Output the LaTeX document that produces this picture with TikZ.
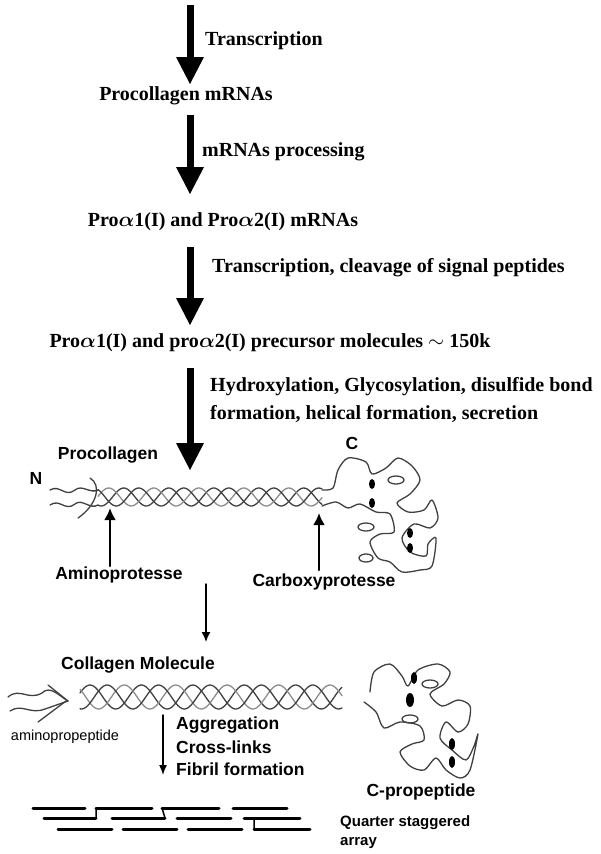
\documentclass[tikz,border=0pt]{standalone}
\usepackage{amsmath}
\usepackage{fontspec}
\setmainfont{Liberation Serif}
\setsansfont{Liberation Sans}
\usetikzlibrary{arrows.meta}
\begin{document}
\begin{tikzpicture}[x=1pt,y=-1pt,>=stealth, line join=round, line cap=round,
  stagebox/.style={font=\fontsize{20}{23}\selectfont\bfseries, inner sep=0pt},
  steplabel/.style={font=\fontsize{20}{23}\selectfont\bfseries, inner sep=0pt, anchor=west},
  sanslabel/.style={font=\sffamily\fontsize{17.5}{20}\selectfont\bfseries, inner sep=0pt},
  strand/.style={line width=1.3pt, black!75},
  strandg/.style={line width=1.3pt, black!45}]
\useasboundingbox (0,0) rectangle (600,854);
% dicke Pfeile
\def\bigarrow#1#2#3{\draw[line width=7pt, line cap=butt] (#1,#2)--(#1,#3-25);
  \fill (#1-14,#3-27)--(#1+14,#3-27)--(#1,#3)--cycle;}
\bigarrow{190}{5}{84}
\bigarrow{190}{115}{194}
\bigarrow{190}{247}{325}
\bigarrow{190}{368}{470}
\node[steplabel] (t1) at (205,41) {Transcription};
\node[stagebox] (s1) at (186,96) {Procollagen mRNAs};
\node[steplabel] (t2) at (202,152) {mRNAs processing};
\node[stagebox] (s2) at (223,222) {Pro$\boldsymbol{\alpha}$1(I) and Pro$\boldsymbol{\alpha}$2(I) mRNAs};
\node[steplabel] (t3) at (212,268) {Transcription, cleavage of signal peptides};
\node[stagebox] (s3) at (270,343) {Pro$\boldsymbol{\alpha}$1(I) and pro$\boldsymbol{\alpha}$2(I) precursor molecules $\sim$ 150k};
\node[steplabel] (t4) at (210,387) {Hydroxylation, Glycosylation, disulfide bond};
\node[steplabel] (t5) at (210,414) {formation, helical formation, secretion};
% Procollagen
\node[sanslabel] (pc) at (108,455) {Procollagen};
\node[sanslabel] (n) at (36,478) {N};
\node[sanslabel] (c) at (352,443) {C};
\foreach \p/\s in {0/strand,120/strandg,240/strand}
  \draw[\s,domain=98:322,samples=120,smooth] plot (\x,{497+9*sin(8*\x+\p)});
\draw[strand] (50,490) .. controls (60,484) and (65,498) .. (75,490) .. controls (82,484) and (90,494) .. (98,490);
\draw[strand] (50,505) .. controls (60,498) and (65,512) .. (75,504) .. controls (82,498) and (90,510) .. (98,505);
\draw[strand] (90,478) .. controls (102,485) and (97,505) .. (78,518);
\draw[strand] plot[smooth] coordinates {(322,490)(333,488)(338,470)(348,458)(366,462)(372,474)(386,468)(398,458)(412,466)(420,480)(410,494)(397,503)(408,512)(424,510)(432,500)(438,518)(430,528)(414,524)(402,538)(410,552)(426,556)(428,544)(436,538)(432,566)(420,570)(402,572)(390,562)(378,558)(370,542)(380,534)(394,532)(390,514)(376,512)(360,504)(348,508)(336,502)(322,506)};
\fill (372,484) ellipse (3 and 5) (372,503) ellipse (3 and 5) (410,533) ellipse (3 and 5) (410,548) ellipse (3 and 5);
\draw[strand] (396,480) ellipse (8 and 4) (366,527) ellipse (8 and 4) (366,558) ellipse (7 and 4);
\coordinate (ap) at (110,508);
\coordinate (cp) at (319,513);
\node[sanslabel] (amino) at (119,575) {Aminoprotesse};
\node[sanslabel] (carboxy) at (324,582) {Carboxyprotesse};
\draw[line width=2.5pt, -{Latex[length=12pt,width=12pt]}] (110,566) -- (ap);
\draw[line width=2.5pt, -{Latex[length=12pt,width=12pt]}] (319,570) -- (cp);
\draw[line width=1.5pt, -{Latex[length=10pt,width=9pt]}] (206,584) -- (206,642);
% Collagen molecule
\node[sanslabel] (cm) at (138,665) {Collagen Molecule};
\foreach \p/\s in {0/strand,120/strandg,240/strand}
  \draw[\s,domain=80:342,samples=140,smooth] plot (\x,{697+12*sin(7*\x+\p)});
\draw[strand] (8,697) .. controls (20,687) and (28,701) .. (42,693) .. controls (50,685) and (58,695) .. (68,701);
\draw[strand] (10,711) .. controls (22,703) and (30,715) .. (45,709) -- (68,701) -- (48,685);
\draw[strand] (66,701) -- (38,722);
\node[sanslabel, font=\sffamily\fontsize{14.5}{17}\selectfont] (ampep) at (65,737) {aminopropeptide};
\draw[line width=1.5pt, -{Latex[length=10pt,width=8pt]}] (163,715) -- (163,775);
\node[sanslabel, anchor=west] (ag) at (176,725) {Aggregation};
\node[sanslabel, anchor=west] (cl) at (176,747) {Cross-links};
\node[sanslabel, anchor=west] (ff) at (176,769) {Fibril formation};
\draw[strand] plot[smooth] coordinates {(370,692)(374,672)(390,664)(402,676)(408,686)(418,670)(438,664)(450,672)(444,684)(430,694)(442,706)(458,700)(470,706)(468,724)(458,732)(446,722)(440,738)(452,750)(466,760)(474,746)(478,734)(470,770)(460,778)(446,770)(436,758)(424,770)(410,766)(400,752)(412,744)(424,740)(420,726)(400,722)(384,728)(376,712)(364,702)};
\fill (414,678) ellipse (3 and 6) (410,700) ellipse (4 and 7) (452,744) ellipse (3 and 6) (452,762) ellipse (3 and 6);
\draw[strand] (430,684) ellipse (8 and 4) (410,719) ellipse (8 and 4);
\node[sanslabel] (cpep) at (421,792) {C-propeptide};
% Faserbündel
\foreach \ya/\xa/\xb in {808/33/85, 808/96/152, 808/162/219, 808/233/287,
  818/44/96, 818/112/165, 818/177/231, 818/244/300,
  829/58/112, 829/123/177, 829/188/242, 829/254/310}
  \draw[line width=3pt] (\xa,\ya) -- (\xb,\ya);
\draw[line width=1.5pt] (96,808)--(96,818) (162,808)--(165,818) (254,818)--(254,829);
\node[sanslabel, anchor=west, font=\sffamily\fontsize{15}{18}\selectfont\bfseries] (qs) at (340,823) {Quarter staggered};
\node[sanslabel, anchor=west, font=\sffamily\fontsize{15}{18}\selectfont\bfseries] (arr) at (340,843) {array};
\end{tikzpicture}
\end{document}
